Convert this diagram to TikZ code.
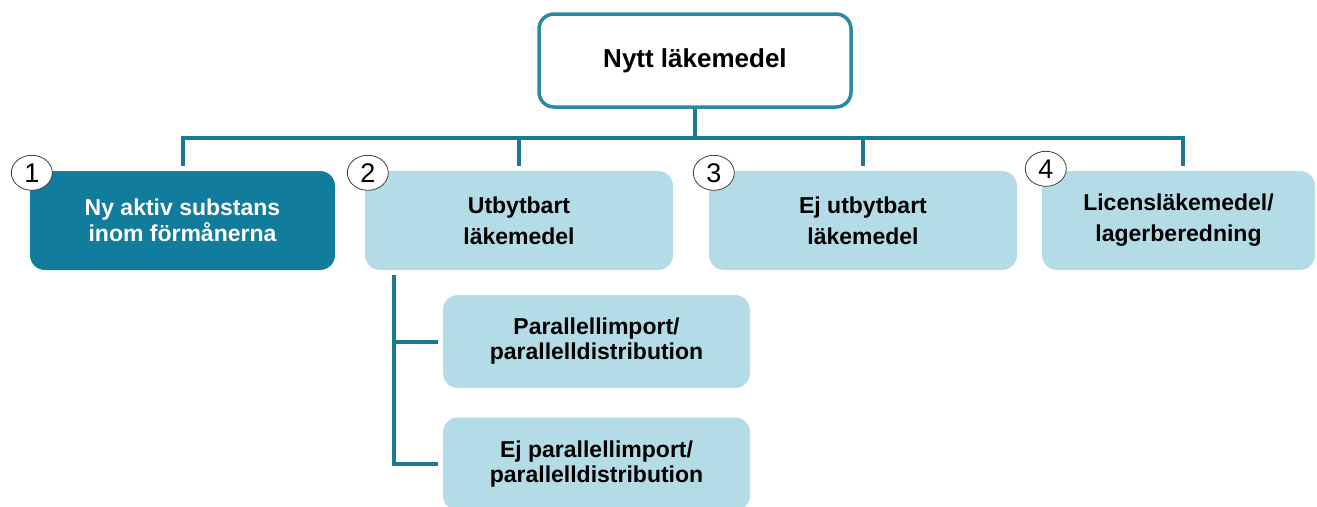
\documentclass[tikz,border=0pt]{standalone}
\usepackage{fontspec}
\setmainfont{Liberation Sans}
\usetikzlibrary{shapes.geometric,calc}
\definecolor{linecol}{HTML}{1D7892}
\definecolor{darkbox}{HTML}{117C9B}
\definecolor{lightbox}{HTML}{B3DCE6}
\definecolor{topborder}{HTML}{2B8AA3}
\begin{document}
\begin{tikzpicture}[x=1pt,y=-1pt,
  conn/.style={draw=linecol,line width=4pt},
  boxbase/.style={rectangle,rounded corners=15pt,align=center,inner sep=0pt},
  topbox/.style={boxbase,draw=topborder,line width=3.5pt,fill=white,minimum width=312pt,minimum height=93pt,font=\bfseries\fontsize{26}{30}\selectfont},
  darkcat/.style={boxbase,fill=darkbox,text=white,minimum width=305pt,minimum height=99pt,font=\bfseries\fontsize{23}{26}\selectfont},
  lightcat/.style={boxbase,fill=lightbox,text=black,minimum width=308pt,minimum height=99pt,font=\bfseries\fontsize{23}{31}\selectfont},
  subbox/.style={boxbase,fill=lightbox,text=black,minimum width=307pt,minimum height=93pt,font=\bfseries\fontsize{23}{25}\selectfont},
  numcirc/.style={ellipse,draw=black!75,line width=0.8pt,fill=white,minimum width=41pt,minimum height=35pt,inner sep=0pt,font=\fontsize{27}{27}\selectfont}
]
\useasboundingbox (0,0) rectangle (1317,506);
\clip (0,0) rectangle (1317,506);

\node[topbox] (top) at (695,60.5) {Nytt läkemedel};

\node[darkcat] (b1) at (182.5,220.5) {Ny aktiv substans\\inom förmånerna};
\node[lightcat] (b2) at (519,220.5) {Utbytbart\\läkemedel};
\node[lightcat] (b3) at (863,220.5) {Ej utbytbart\\läkemedel};
\node[lightcat,minimum width=273pt] (b4) at (1178.5,220.5) {Licensläkemedel/\\lagerberedning};

\node[subbox] (p1) at (596.5,341.5) {Parallellimport/\\parallelldistribution};
\node[subbox] (p2) at (596.5,464) {Ej parallellimport/\\parallelldistribution};

\node[numcirc] (n1) at ([xshift=2pt,yshift=-2pt]b1.north west) {1};
\node[numcirc] (n2) at ([xshift=3pt,yshift=-2pt]b2.north west) {2};
\node[numcirc] (n3) at ([xshift=5pt,yshift=-2pt]b3.north west) {3};
\node[numcirc] (n4) at ([xshift=4pt,yshift=2pt]b4.north west) {4};

\coordinate (bus) at ($(top.south)+(0,29)$);
\draw[conn] (top.south) -- (bus);
\draw[conn] ([yshift=5pt]b1.north) |- (bus) -| ([xshift=4pt,yshift=5pt]b4.north);
\draw[conn] ([yshift=5pt]b2.north) -- (b2.north |- bus);
\draw[conn] ([yshift=5pt]b3.north) -- (b3.north |- bus);

\coordinate (stem) at ([xshift=29pt,yshift=-5pt]b2.south west);
\draw[conn] (stem) |- ([xshift=-5pt]p2.west);
\draw[conn] (stem |- p1.west) -- ([xshift=-5pt]p1.west);
\end{tikzpicture}
\end{document}
